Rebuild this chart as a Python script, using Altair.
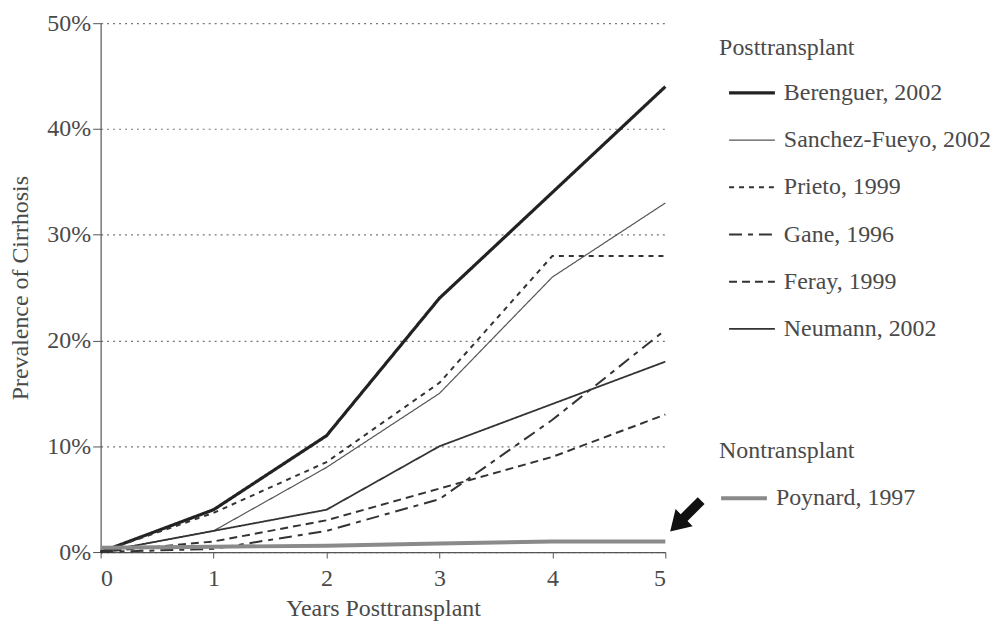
import altair as alt
import pandas as pd

years = [0, 1, 2, 3, 4, 5]
studies = ["Berenguer, 2002", "Sanchez-Fueyo, 2002", "Prieto, 1999",
           "Gane, 1996", "Feray, 1999", "Neumann, 2002"]
berenguer = [0, 4, 11, 24, 34, 44]
sanchez = [0, 2, 8, 15, 26, 33]
prieto = [0, 3.7, 8.5, 16, 28, 28]
gane = [0, 0.3, 2, 5, 12.5, 21]
feray = [0, 1, 3, 6, 9, 13]
neumann = [0, 2, 4, 10, 14, 18]
poynard_label = "Poynard, 1997"
poynard = [0.4, 0.5, 0.6, 0.8, 1.0, 1.0]

series = [berenguer, sanchez, prieto, gane, feray, neumann]
rows = []
for name, vals in zip(studies, series):
    for yr, v in zip(years, vals):
        rows.append({"study": name, "year": yr, "value": v})
post = pd.DataFrame(rows)
non = pd.DataFrame({"group": poynard_label, "year": years, "value": poynard})
arrow = pd.DataFrame({"year": [5.18], "value": [3.4]})

FONT = "Liberation Serif"
TXT = "#4a4a4a"

dashes = [[1, 0], [1, 0], [5, 5], [13, 6, 5, 6], [8, 5], [1, 0]]
widths = [3.2, 1.2, 2, 2, 2, 1.8]
colors = ["#222222", "#555555", "#333333", "#333333", "#333333", "#333333"]

x = alt.X("year:Q", scale=alt.Scale(domain=[0, 5]),
          axis=alt.Axis(values=[0, 1, 2, 3, 4, 5], format="d", title="Years Posttransplant",
                        grid=False, tickSize=6, labelPadding=9, titleY=45))
y = alt.Y("value:Q", scale=alt.Scale(domain=[0, 50]),
          axis=alt.Axis(values=[0, 10, 20, 30, 40, 50], labelExpr="datum.value + '%'",
                        title="Prevalence of Cirrhosis", grid=True, tickSize=8,
                        labelPadding=2, titleX=-68))

post_legend = alt.Legend(title="Posttransplant", orient="none", legendX=621,
                         legendY=13, symbolOffset=8, titlePadding=8, rowPadding=11.4)

post_lines = alt.Chart(post).mark_line().encode(
    x=x, y=y,
    color=alt.Color("study:N", scale=alt.Scale(domain=studies, range=colors),
                    legend=post_legend),
    strokeDash=alt.StrokeDash("study:N", scale=alt.Scale(domain=studies, range=dashes),
                              legend=post_legend),
    strokeWidth=alt.StrokeWidth("study:N",
                                scale=alt.Scale(type="ordinal", domain=studies, range=widths),
                                legend=post_legend),
)

non_line = alt.Chart(non).mark_line(strokeWidth=4, color="#8a8a8a").encode(
    x="year:Q", y="value:Q",
    opacity=alt.Opacity("group:N", scale=alt.Scale(domain=[poynard_label], range=[1]),
                        legend=alt.Legend(title="Nontransplant", orient="none", legendX=621,
                                          legendY=418, symbolStrokeWidth=4, titlePadding=10,
                                          symbolStrokeColor="#8a8a8a")),
)

arrow_mark = alt.Chart(arrow).mark_point(
    shape="M -1 0 L -0.1 -0.55 L -0.1 -0.22 L 1 -0.22 L 1 0.22 L -0.1 0.22 L -0.1 0.55 Z",
    filled=True, color="#111111", size=1936, angle=315, opacity=1,
).encode(x="year:Q", y="value:Q")

chart = alt.layer(post_lines, non_line, arrow_mark).properties(
    width=567, height=531,
    autosize=alt.AutoSizeParams(type="none"),
    padding={"left": 93, "top": 14, "right": 330, "bottom": 70},
).configure_view(stroke=None).configure_axis(
    labelFont=FONT, titleFont=FONT, labelFontSize=24, titleFontSize=24,
    labelColor=TXT, titleColor=TXT, titleFontWeight="normal",
    domainColor="#555555", tickColor="#555555", domainWidth=1.2,
    gridColor="#777777", gridDash=[2, 4], gridWidth=1.2,
).configure_axisY(labelAlign="right").configure_legend(
    titleFont=FONT, labelFont=FONT, titleFontSize=24, labelFontSize=24,
    titleFontWeight="normal", titleColor=TXT, labelColor=TXT, labelLimit=400,
    symbolType="stroke", symbolSize=2116, labelOffset=7,
)

chart.save("out.html", embed_options={"renderer": "svg", "actions": False})
